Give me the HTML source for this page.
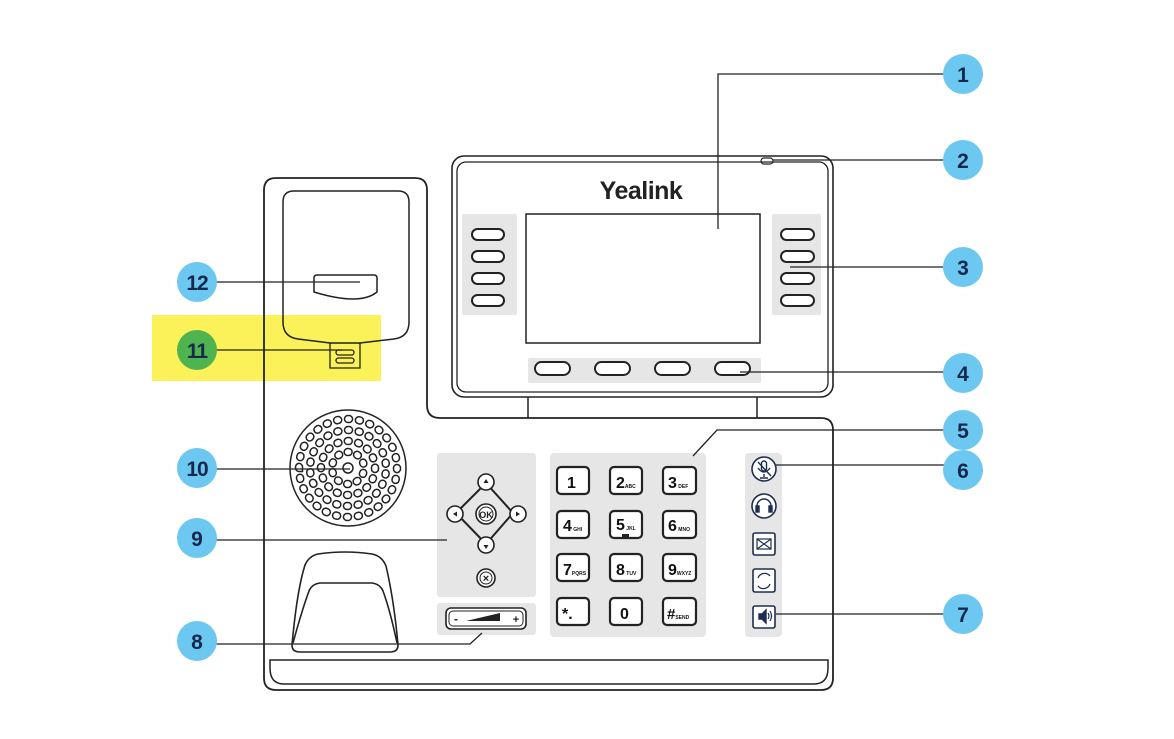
<!DOCTYPE html>
<html><head><meta charset="utf-8"><style>
html,body{margin:0;padding:0;background:#fff;}
svg{display:block}
.b{font-family:"Liberation Sans",sans-serif;font-weight:bold;font-size:21px;fill:#16294d;text-anchor:middle;}
.k{font-family:"Liberation Sans",sans-serif;font-weight:bold;fill:#111;}
</style></head><body>
<svg width="1174" height="739" viewBox="0 0 1174 739" xmlns="http://www.w3.org/2000/svg">
<rect x="152" y="315" width="229" height="66" fill="#fbf259"/>
<g fill="none" stroke="#222" stroke-width="1.8">
<path d="M264 190 Q264 178 276 178 L415 178 Q427 178 427 190 L427 405 Q427 418 440 418 L821 418 Q833 418 833 430 L833 678 Q833 690 821 690 L276 690 Q264 690 264 678 Z"/>
<path d="M270 668 L270 660 L828 660 L828 668 Q828 684 814 684 L284 684 Q270 684 270 668 Z" stroke-width="1.5"/>
<path d="M283 202 Q283 191 294 191 L398 191 Q409 191 409 202 L409 322 Q409 337 394 339 L360 343 L330 343 L298 339 Q283 337 283 322 Z" stroke-width="1.5"/>
<path d="M330 343 L330 368 L360 368 L360 343" stroke-width="1.3"/>
<rect x="336" y="350" width="18" height="5" rx="2.5" stroke-width="1.3"/>
<rect x="336" y="358" width="18" height="5" rx="2.5" stroke-width="1.3"/>
<path d="M314 278 Q314 275 317 275 L374 275 Q377 275 377 278 L377 292 Q360 306 314 292 Z" stroke-width="1.5"/>
<rect x="452" y="156" width="381" height="241" rx="12" stroke-width="1.6"/>
<rect x="457" y="162" width="371" height="230" rx="9" stroke-width="1.3"/>
<path d="M528 397 L528 418 M757 397 L757 418" stroke-width="1.5"/>
<rect x="761" y="158" width="12" height="6" rx="3" stroke-width="1.2"/>
</g>
<g fill="#e6e6e6">
<rect x="462" y="214" width="55" height="101" rx="2"/>
<rect x="772" y="214" width="49" height="101" rx="2"/>
<rect x="528" y="358" width="233" height="25" rx="2"/>
<rect x="437" y="453" width="99" height="144" rx="3"/>
<rect x="437" y="603" width="99" height="32" rx="3"/>
<rect x="550" y="453" width="156" height="184" rx="4"/>
<rect x="745" y="453" width="37" height="184" rx="4"/>
</g>
<text x="641" y="199" font-family="Liberation Sans,sans-serif" font-weight="bold" font-size="25" fill="#222" text-anchor="middle" letter-spacing="-0.5">Yealink</text>
<rect x="526" y="214" width="234" height="129" fill="#fff" stroke="#222" stroke-width="1.5"/>
<g fill="#fff" stroke="#222" stroke-width="2">
<rect x="472" y="229" width="32" height="11" rx="5.5"/><rect x="472" y="251" width="32" height="11" rx="5.5"/>
<rect x="472" y="273" width="32" height="11" rx="5.5"/><rect x="472" y="295" width="32" height="11" rx="5.5"/>
<rect x="781" y="229" width="33" height="11" rx="5.5"/><rect x="781" y="251" width="33" height="11" rx="5.5"/>
<rect x="781" y="273" width="33" height="11" rx="5.5"/><rect x="781" y="295" width="33" height="11" rx="5.5"/>
<rect x="535" y="362" width="35" height="13" rx="6.5"/><rect x="595" y="362" width="35" height="13" rx="6.5"/>
<rect x="655" y="362" width="35" height="13" rx="6.5"/><rect x="715" y="362" width="35" height="13" rx="6.5"/>
</g>
<!-- speaker -->
<circle cx="348" cy="468" r="58" fill="none" stroke="#222" stroke-width="1.5"/>
<g fill="none" stroke-linecap="round">
<circle cx="348" cy="468" r="49" stroke="#222" stroke-width="8.5" pathLength="280" stroke-dasharray="1 9"/>
<circle cx="348" cy="468" r="49" stroke="#fff" stroke-width="5.5" pathLength="280" stroke-dasharray="1 9"/>
<circle cx="348" cy="468" r="38" stroke="#222" stroke-width="8.5" pathLength="220" stroke-dasharray="1 9" stroke-dashoffset="5"/>
<circle cx="348" cy="468" r="38" stroke="#fff" stroke-width="5.5" pathLength="220" stroke-dasharray="1 9" stroke-dashoffset="5"/>
<circle cx="348" cy="468" r="27" stroke="#222" stroke-width="8.5" pathLength="160" stroke-dasharray="1 9"/>
<circle cx="348" cy="468" r="27" stroke="#fff" stroke-width="5.5" pathLength="160" stroke-dasharray="1 9"/>
<circle cx="348" cy="468" r="16" stroke="#222" stroke-width="8.5" pathLength="100" stroke-dasharray="1 9" stroke-dashoffset="5"/>
<circle cx="348" cy="468" r="16" stroke="#fff" stroke-width="5.5" pathLength="100" stroke-dasharray="1 9" stroke-dashoffset="5"/>
<circle cx="348" cy="468" r="5" stroke="#222" stroke-width="1.5"/>
</g>
<g fill="none" stroke="#222" stroke-width="1.6">
<path d="M292 645 Q297 590 305 565 Q309 556 318 554 Q345 550 372 554 Q382 556 386 566 Q394 600 398 645 Q398 652 390 652 L300 652 Q292 652 292 645 Z"/>
<path d="M293 643 Q302 610 309 591 Q312 584 320 583 L372 583 Q380 584 383 591 Q390 610 397 643"/>
</g>
<g fill="#fff" stroke="#222" stroke-width="1.6">
<path d="M486 483 L513 513 L486 544 L456 513 Z" fill="none" stroke-width="2" stroke-linejoin="round"/>
<circle cx="486" cy="482" r="8"/><circle cx="486" cy="545" r="8"/><circle cx="455" cy="514" r="8"/><circle cx="518" cy="514" r="8"/>
<circle cx="486" cy="514" r="10"/><circle cx="486" cy="514" r="7" stroke-width="1"/>
<circle cx="486" cy="578" r="9"/><circle cx="486" cy="578" r="6" stroke-width="1"/>
<rect x="446" y="608" width="80" height="21" rx="5"/><rect x="449" y="611" width="74" height="15" rx="4" stroke-width="1"/>
</g>
<g fill="#222" font-family="Liberation Sans,sans-serif" font-weight="bold" text-anchor="middle">
<path d="M486 479 l-2.5 4 h5z M486 549 l-2.5 -4 h5z M453 514 l4 -2.5 v5z M520 514 l-4 -2.5 v5z"/>
<text x="486" y="518" font-size="9">OK</text>
<text x="486" y="582" font-size="11">×</text>
<text x="456" y="623" font-size="12">-</text><text x="516" y="623" font-size="11">+</text>
<path d="M466 621 L500 621 L500 613 Z"/>
</g>
<g fill="#fff" stroke="#222" stroke-width="2.2">
<rect x="557" y="467" width="32" height="27" rx="4"/><rect x="610" y="467" width="32" height="27" rx="4"/><rect x="663" y="467" width="33" height="27" rx="4"/>
<rect x="557" y="511" width="32" height="27" rx="4"/><rect x="610" y="511" width="32" height="27" rx="4"/><rect x="663" y="511" width="33" height="27" rx="4"/>
<rect x="557" y="554" width="32" height="27" rx="4"/><rect x="610" y="554" width="32" height="27" rx="4"/><rect x="663" y="554" width="33" height="27" rx="4"/>
<rect x="557" y="598" width="32" height="27" rx="4"/><rect x="610" y="598" width="32" height="27" rx="4"/><rect x="663" y="598" width="33" height="27" rx="4"/>
</g>
<g class="k" font-size="16">
<text x="567" y="488">1</text><text x="616" y="488">2<tspan font-size="5">ABC</tspan></text><text x="668" y="488">3<tspan font-size="5"> DEF</tspan></text>
<text x="563" y="531">4<tspan font-size="5"> GHI</tspan></text><text x="616" y="530">5<tspan font-size="5"> JKL</tspan></text><text x="668" y="531">6<tspan font-size="5"> MNO</tspan></text>
<text x="563" y="575">7<tspan font-size="5">PQRS</tspan></text><text x="616" y="575">8<tspan font-size="5"> TUV</tspan></text><text x="668" y="575">9<tspan font-size="5">WXYZ</tspan></text>
<text x="562" y="619">*.</text><text x="620" y="619">0</text><text x="667" y="619" font-size="15">#<tspan font-size="5">SEND</tspan></text>
</g>
<rect x="622" y="534" width="7" height="3" fill="#222"/>
<g fill="#fff" stroke="#1d2e50" stroke-width="1.6">
<circle cx="764" cy="469" r="12"/><circle cx="764" cy="506" r="12"/>
<rect x="753" y="533" width="22" height="22" rx="2"/><rect x="753" y="569" width="22" height="23" rx="2"/><rect x="753" y="606" width="22" height="22" rx="2"/>
</g>
<g fill="none" stroke="#1d2e50" stroke-width="1.4">
<rect x="761.5" y="461" width="5" height="10" rx="2.5"/><path d="M758 468 q6 8 12 0 M764 474 v3 M760 478 h8 M758 462 L771 476"/>
<path d="M757 510 v-4 a7 7 0 0 1 14 0 v4"/><rect x="756" y="506" width="3" height="6" fill="#1d2e50"/><rect x="769" y="506" width="3" height="6" fill="#1d2e50"/>
<rect x="757" y="539" width="14" height="10" stroke-width="1.2"/><path d="M757 539 L771 549 M771 539 L757 549" stroke-width="1.2"/>
<path d="M758 578 a7 7 0 0 1 12 -2 M770 584 a7 7 0 0 1 -12 2" stroke-width="1.3"/>
<path d="M759 614 h3 l4 -4 v13 l-4 -4 h-3 z" fill="#1d2e50"/><path d="M768 613 q2 3 0 6 M770 611 q3 5 0 10" stroke-width="1.2"/>
</g>
<g fill="none" stroke="#222" stroke-width="1.3">
<path d="M944 74 L718 74 L718 229"/>
<path d="M773 160 L944 160"/>
<path d="M790 267 L944 267"/>
<path d="M740 372 L944 372"/>
<path d="M944 430 L717 430 L693 456"/>
<path d="M776 465 L944 465"/>
<path d="M776 614 L944 614"/>
<path d="M216 644 L470 644 L482 633"/>
<path d="M216 540 L447 540"/>
<path d="M216 469 L350 469"/>
<path d="M216 350 L342 350"/>
<path d="M216 282 L360 282"/>
</g>
<g fill="#6cc8f0">
<circle cx="963" cy="74" r="20"/><circle cx="963" cy="160" r="20"/><circle cx="963" cy="267" r="20"/><circle cx="963" cy="373" r="20"/>
<circle cx="963" cy="430" r="20"/><circle cx="963" cy="470" r="20"/><circle cx="963" cy="614" r="20"/>
<circle cx="197" cy="641" r="20"/><circle cx="197" cy="538" r="20"/><circle cx="197" cy="468" r="20"/><circle cx="197" cy="282" r="20"/>
</g>
<circle cx="197" cy="350" r="20" fill="#4fb34f"/>
<g class="b">
<text x="963" y="82">1</text><text x="963" y="168">2</text><text x="963" y="275">3</text><text x="963" y="381">4</text>
<text x="963" y="438">5</text><text x="963" y="478">6</text><text x="963" y="622">7</text>
<text x="197" y="649">8</text><text x="197" y="546">9</text><text x="197" y="476" letter-spacing="-1">10</text>
<text x="197" y="358" letter-spacing="-1">11</text><text x="197" y="290" letter-spacing="-1">12</text>
</g>
</svg>
</body></html>
